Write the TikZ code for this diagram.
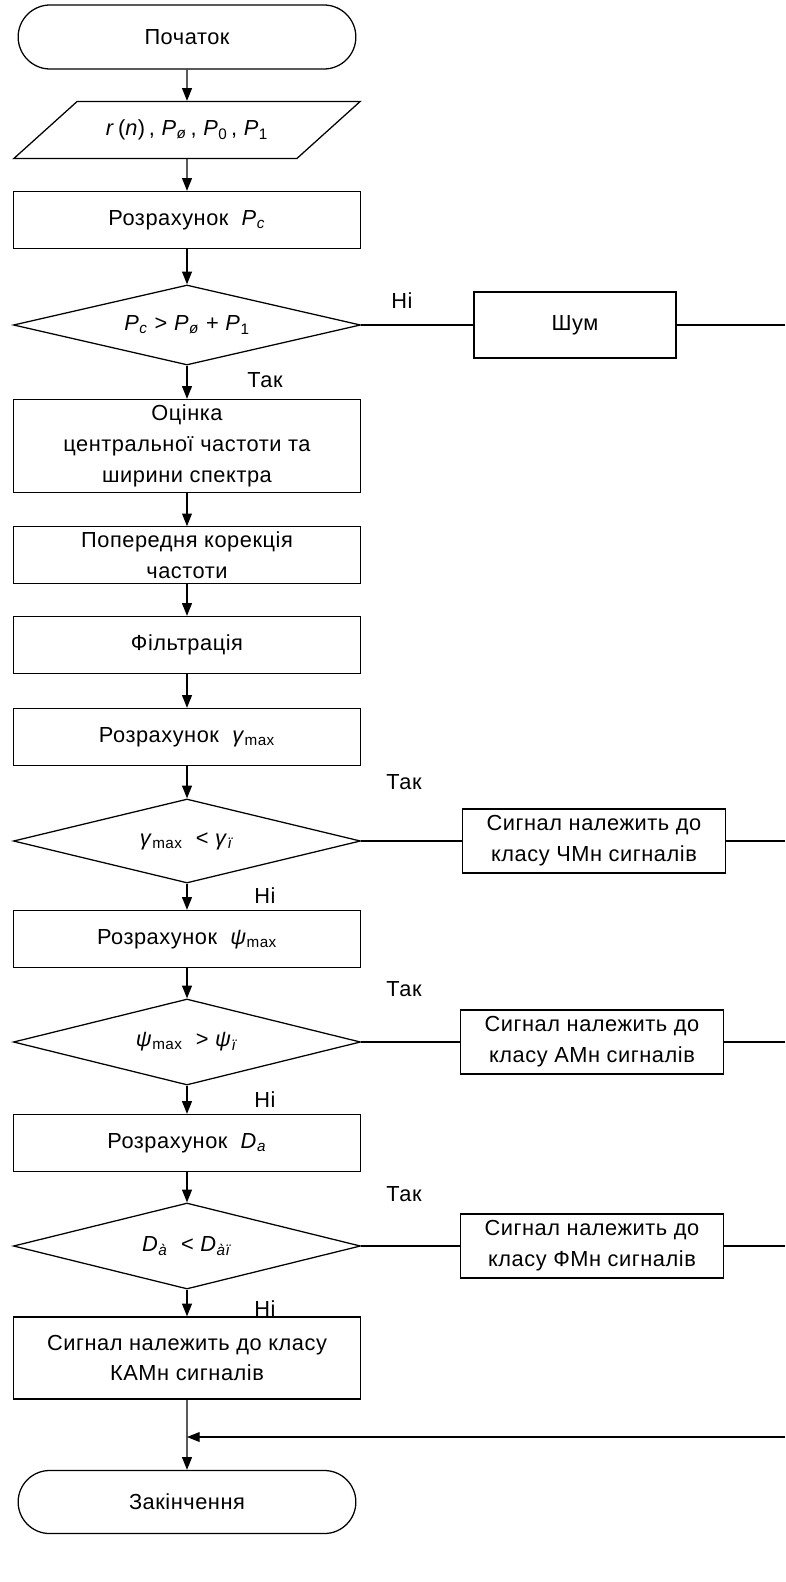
\documentclass[tikz,border=0pt]{standalone}
\usepackage{fontspec}
\setmainfont[LetterSpace=2.5]{Liberation Sans}
\usetikzlibrary{shapes.geometric,shapes.misc}
\usetikzlibrary{arrows.meta}
\tikzset{>=latex}
\newcommand{\vsub}[2]{\textit{#1}\textsubscript{#2}}
\tikzset{
  flowLine/.style={
    line width=0.8pt
  },
  flowArrow/.style={
    flowLine,
    -{Triangle[length=9pt,width=7pt]}
  },
  processBox/.style={
    draw,
    line width=0.9pt,
    rectangle,
    align=center,
    minimum width=8.675cm,
    minimum height=1.425cm
  },
  sideBox/.style={
    processBox,
    minimum width=6.575cm,
    minimum height=1.6cm
  },
  terminalBox/.style={
    draw,
    line width=0.9pt,
    rounded rectangle,
    minimum width=8.675cm,
    minimum height=1.6cm
  },
  ioBox/.style={
    draw,
    line width=0.9pt,
    trapezium,
    trapezium left angle=31,
    trapezium right angle=149,
    trapezium stretches=true,
    minimum width=8.675cm,
    minimum height=1.425cm
  },
  decisionBox/.style={
    draw,
    line width=0.9pt,
    diamond,
    shape aspect=4.3,
    inner sep=0pt,
    minimum width=8.675cm,
    minimum height=2.1cm
  },
  branchLabel/.style={
    inner sep=0pt
  }
}

\begin{document}
\begin{tikzpicture}[x=0.025cm, y=-0.025cm, font=\fontsize{15.5}{22}\selectfont]
\useasboundingbox (0,0) rectangle (785,1582);
\def\cx{187}     % main column
\def\rx{785}     % right edge, where the return lines leave

% main column
\node[terminalBox] (start) at (\cx,37) {Початок};
\node[ioBox] (input) at (\cx,130)
  {\textit{r}\,(\textit{n})\,, \vsub{P}{\textit{ø}}\,, \vsub{P}{0}\,, \vsub{P}{1}};
\node[processBox] (powC) at (\cx,220) {Розрахунок\ \ \vsub{P}{\textit{c}}};
\node[decisionBox, minimum height=2cm] (isNoise) at (\cx,325)
  {\vsub{P}{\textit{c}} > \vsub{P}{\textit{ø}} + \vsub{P}{1}};
\node[processBox, minimum height=2.325cm] (estim) at (\cx,446)
  {Оцінка\\центральної частоти та\\ширини спектра};
\node[processBox, minimum height=1.4cm] (precor) at (\cx,555)
  {Попередня корекція\\частоти};
\node[processBox] (filt) at (\cx,645) {Фільтрація};
\node[processBox] (gamC) at (\cx,737) {Розрахунок\ \ \vsub{\textit{γ}}{max}};
\node[decisionBox] (isFM) at (\cx,841)
  {\vsub{\textit{γ}}{max}\ \ < \vsub{\textit{γ}}{\textit{ï}}};
\node[processBox] (psiC) at (\cx,939) {Розрахунок\ \ \vsub{\textit{ψ}}{max}};
\node[decisionBox, minimum height=2.15cm] (isAM) at (\cx,1042)
  {\vsub{\textit{ψ}}{max}\ \ > \vsub{\textit{ψ}}{\textit{ï}}};
\node[processBox] (daC) at (\cx,1143) {Розрахунок\ \ \vsub{D}{\textit{a}}};
\node[decisionBox, minimum height=2.15cm] (isPM) at (\cx,1246)
  {\vsub{D}{\textit{à}}\ \ < \vsub{D}{\textit{àï}}};
\node[processBox, minimum height=2.05cm] (qam) at (\cx,1358)
  {Сигнал належить до класу\\КАМн сигналів};
\node[terminalBox, minimum height=1.575cm] (finish) at (\cx,1502) {Закінчення};

% side column
\node[processBox, minimum width=5.05cm, minimum height=1.65cm] (noise) at (575,325) {Шум};
\node[sideBox] (fm) at (594,841) {Сигнал належить до\\класу ЧМн сигналів};
\node[sideBox] (am) at (592,1042) {Сигнал належить до\\класу АМн сигналів};
\node[sideBox] (pm) at (592,1246) {Сигнал належить до\\класу ФМн сигналів};

\coordinate (noiseOut) at (\rx,325);
\coordinate (fmOut) at (\rx,841);
\coordinate (amOut) at (\rx,1042);
\coordinate (pmOut) at (\rx,1246);
\coordinate (backIn) at (\rx,1437);
\coordinate (merge) at (\cx,1437);

% branch labels
\node[branchLabel] (lNo1) at (402,301) {Ні};
\node[branchLabel] (lYes1) at (265,380) {Так};
\node[branchLabel] (lYes2) at (404,782) {Так};
\node[branchLabel] (lNo2) at (265,896) {Ні};
\node[branchLabel] (lYes3) at (404,989) {Так};
\node[branchLabel] (lNo3) at (265,1100) {Ні};
\node[branchLabel] (lYes4) at (404,1194) {Так};
\node[branchLabel] (lNo4) at (265,1309) {Ні};

% connectors
\draw[flowArrow] (start) -- (input);
\draw[flowArrow] (input) -- (powC);
\draw[flowArrow] (powC) -- (isNoise);
\draw[flowArrow] (isNoise) -- (estim);
\draw[flowArrow] (estim) -- (precor);
\draw[flowArrow] (precor) -- (filt);
\draw[flowArrow] (filt) -- (gamC);
\draw[flowArrow] (gamC) -- (isFM);
\draw[flowArrow] (isFM) -- (psiC);
\draw[flowArrow] (psiC) -- (isAM);
\draw[flowArrow] (isAM) -- (daC);
\draw[flowArrow] (daC) -- (isPM);
\draw[flowArrow] (isPM) -- (qam);
\draw[flowArrow] (qam) -- (finish);

\draw[flowLine] (isNoise.east) -- (noise.west);
\draw[flowLine] (isFM.east) -- (fm.west);
\draw[flowLine] (isAM.east) -- (am.west);
\draw[flowLine] (isPM.east) -- (pm.west);
\draw[flowLine] (noise.east) -- (noiseOut);
\draw[flowLine] (fm.east) -- (fmOut);
\draw[flowLine] (am.east) -- (amOut);
\draw[flowLine] (pm.east) -- (pmOut);
\draw[flowArrow] (backIn) -- (merge);

\end{tikzpicture}
\end{document}
